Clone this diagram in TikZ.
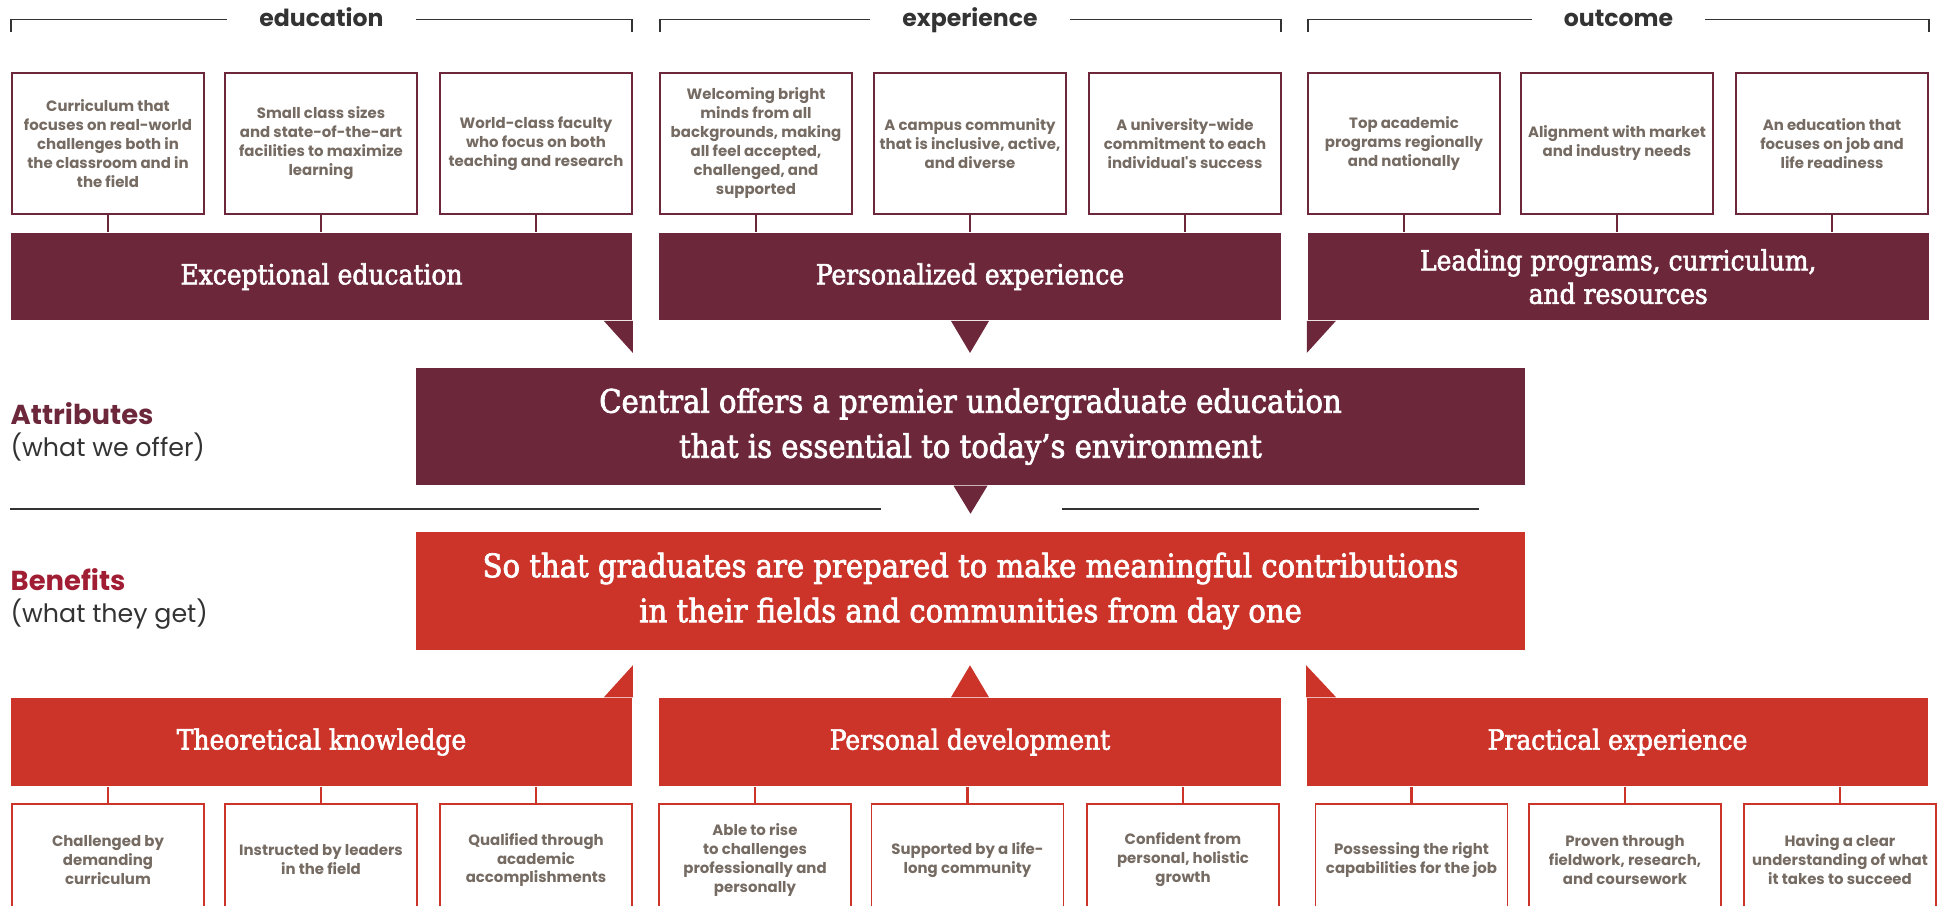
\documentclass[tikz,border=0pt]{standalone}
\usepackage{fontspec}
\setmainfont{DejaVu Serif Condensed}
\newfontfamily\bannerfont{DejaVu Serif Condensed}[FakeBold=2.2]
\newfontfamily\labelfont{Poppins}
\usetikzlibrary{positioning}
\usepackage{xcolor}

\definecolor{maroon}{HTML}{6D273B}
\definecolor{brick}{HTML}{CC3329}
\definecolor{crimson}{HTML}{A11D33}
\definecolor{boxtext}{HTML}{756B63}
\definecolor{darkrule}{HTML}{333333}

\tikzset{
  topbox/.style={draw=maroon, line width=0.45pt, fill=white, minimum width=1.92cm,
    minimum height=1.41cm, inner sep=0pt, align=center, text=boxtext,
    font=\labelfont\bfseries\fontsize{4.25}{5.4}\selectfont},
  botbox/.style={topbox, draw=brick, minimum height=1.12cm},
  banner/.style={fill=maroon, text=white, minimum width=6.21cm, minimum height=0.87cm,
    inner sep=0pt, align=center, font=\bannerfont\fontsize{7.9}{9.5}\selectfont},
  redbanner/.style={banner, fill=brick, minimum height=0.88cm},
  bigbox/.style={banner, minimum width=11.09cm, minimum height=1.17cm,
    font=\bannerfont\fontsize{9.2}{12.8}\selectfont},
  head/.style={text=darkrule, inner xsep=9pt, inner ysep=0pt, text height=5.2pt,
    text depth=1.5pt, font=\labelfont\bfseries\fontsize{6.7}{8}\selectfont},
  bracket/.style={darkrule, line width=0.45pt},
  link/.style={line width=0.6pt},
  side/.style={anchor=base west, inner sep=0pt, font=\labelfont\bfseries\fontsize{7.8}{9}\selectfont},
  sidesub/.style={anchor=base west, inner sep=0pt, text=darkrule, font=\labelfont\fontsize{7.2}{9}\selectfont}
}

\begin{document}
\begin{tikzpicture}[x=0.01cm, y=-0.01cm]
\useasboundingbox (0,0) rectangle (1942,906);
\clip (0,0) rectangle (1942,906);

% headings with brackets
\node[head] (hedu) at (321.5,19.5) {education};
\node[head] (hexp) at (970,19.5) {experience};
\node[head] (hout) at (1618.5,19.5) {outcome};
\coordinate (bl1) at (11,32);   \coordinate (br1) at (632,32);
\coordinate (bl2) at (660,32);  \coordinate (br2) at (1281,32);
\coordinate (bl3) at (1308,32); \coordinate (br3) at (1929,32);
\draw[bracket] (bl1) |- (hedu.west); \draw[bracket] (hedu.east) -| (br1);
\draw[bracket] (bl2) |- (hexp.west); \draw[bracket] (hexp.east) -| (br2);
\draw[bracket] (bl3) |- (hout.west); \draw[bracket] (hout.east) -| (br3);

% attribute boxes
\node[topbox] (e1) at (108,143.4) {Curriculum that\\focuses on real-world\\challenges both in\\the classroom and in\\the field};
\node[topbox] (e2) at (321,143.4) {Small class sizes\\and state-of-the-art\\facilities to maximize\\learning};
\node[topbox] (e3) at (536,143.4) {World-class faculty\\who focus on both\\teaching and research};
\node[topbox] (x1) at (756,143.4) {Welcoming bright\\minds from all\\backgrounds, making\\all feel accepted,\\challenged, and\\supported};
\node[topbox] (x2) at (970,143.4) {A campus community\\that is inclusive, active,\\and diverse};
\node[topbox] (x3) at (1185,143.4) {A university-wide\\commitment to each\\individual's success};
\node[topbox] (o1) at (1404,143.4) {Top academic\\programs regionally\\and nationally};
\node[topbox] (o2) at (1617,143.4) {Alignment with market\\and industry needs};
\node[topbox] (o3) at (1832,143.4) {An education that\\focuses on job and\\life readiness};

% attribute banners
\node[banner] (edu) at (321.5,276.7) {Exceptional education};
\node[banner] (exp) at (970,276.7) {Personalized experience};
\node[banner] (out) at (1618.2,276.7) {Leading programs, curriculum,\\and resources};
\fill[maroon] ([xshift=-0.29cm]edu.south east) -- (edu.south east) -- ++(0,32) -- cycle;
\fill[maroon] ([xshift=-0.19cm]exp.south) -- ([xshift=0.19cm]exp.south) -- ++(-19,32) -- cycle;
\fill[maroon] ([xshift=0.29cm]out.south west) -- (out.south west) -- ++(0,32) -- cycle;

\foreach \b/\t in {e1/edu,e2/edu,e3/edu,x1/exp,x2/exp,x3/exp,o1/out,o2/out,o3/out}
  \draw[link, maroon] (\b.south) -- (\b.south |- \t.north);

% central statements
\node[bigbox] (offer) at (970.5,426.5) {Central offers a premier undergraduate education\\that is essential to today’s environment};
\fill[maroon] ([xshift=-0.17cm]offer.south) -- ([xshift=0.17cm]offer.south) -- ++(-17,28) -- cycle;
\node[bigbox, fill=brick] (gain) at (970.5,591) {So that graduates are prepared to make meaningful contributions\\in their fields and communities from day one};

\draw[darkrule, line width=0.5pt] (10,509) -- (881,509);
\draw[darkrule, line width=0.5pt] (1062,509) -- (1478.5,509);

% side labels
\node[side, text=maroon] (attr) at (10,424) {Attributes};
\node[sidesub] (attrsub) at (10,456) {(what we offer)};
\node[side, text=crimson] (bene) at (10,590) {Benefits};
\node[sidesub] (benesub) at (10,622) {(what they get)};

% benefit banners
\node[redbanner] (theo) at (321.5,742) {Theoretical knowledge};
\node[redbanner] (pers) at (970,742) {Personal development};
\node[redbanner] (prac) at (1617.5,742) {Practical experience};
\fill[brick] ([xshift=-0.29cm]theo.north east) -- (theo.north east) -- ++(0,-32) -- cycle;
\fill[brick] ([xshift=-0.19cm]pers.north) -- ([xshift=0.19cm]pers.north) -- ++(-19,-32) -- cycle;
\fill[brick] ([xshift=0.30cm]prac.north west) -- (prac.north west) -- ++(0,-32) -- cycle;

% benefit boxes
\node[botbox] (t1) at (108,860) {Challenged by\\demanding\\curriculum};
\node[botbox] (t2) at (321,860) {Instructed by leaders\\in the field};
\node[botbox] (t3) at (536,860) {Qualified through\\academic\\accomplishments};
\node[botbox] (p1) at (755,860) {Able to rise\\to challenges\\professionally and\\personally};
\node[botbox] (p2) at (967.5,860) {Supported by a life-\\long community};
\node[botbox] (p3) at (1183,860) {Confident from\\personal, holistic\\growth};
\node[botbox] (r1) at (1411.5,860) {Possessing the right\\capabilities for the job};
\node[botbox] (r2) at (1625,860) {Proven through\\fieldwork, research,\\and coursework};
\node[botbox] (r3) at (1840,860) {Having a clear\\understanding of what\\it takes to succeed};

\foreach \b/\t in {t1/theo,t2/theo,t3/theo,p1/pers,p2/pers,p3/pers,r1/prac,r2/prac,r3/prac}
  \draw[link, brick] (\b.north) -- (\b.north |- \t.south);
\end{tikzpicture}
\end{document}
